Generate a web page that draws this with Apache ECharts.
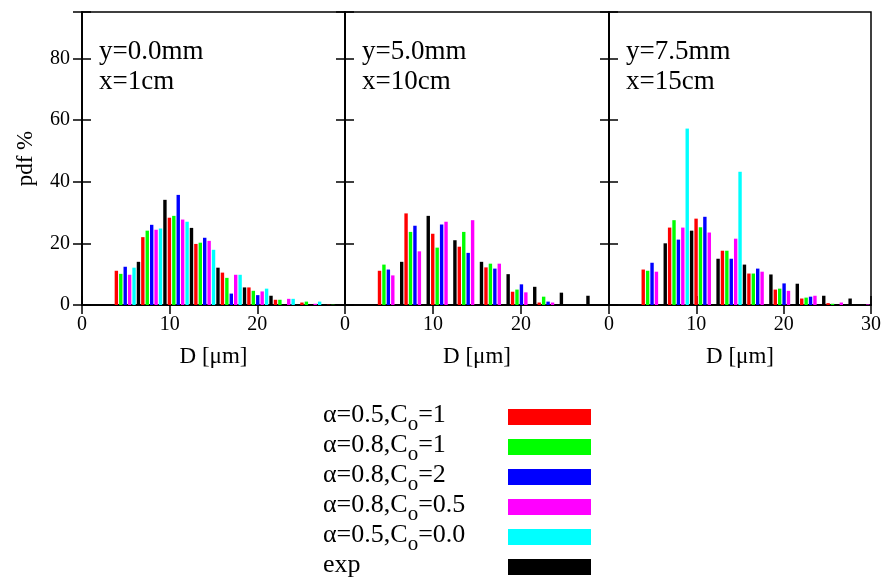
<!DOCTYPE html>
<html>
<head>
<meta charset="utf-8">
<script src="https://cdn.jsdelivr.net/npm/echarts@6/dist/echarts.min.js"></script>
<style>html,body{margin:0;padding:0;background:#fff}#c{width:884px;height:583px}</style>
</head>
<body>
<div id="c"></div>
<script>
// ---- data ----
const binD = [5.18, 8.2, 11.23, 14.25, 17.28, 20.3, 23.33, 26.35, 29.38];
const seriesNames = ['α=0.5,C_o=1', 'α=0.8,C_o=1', 'α=0.8,C_o=2', 'α=0.8,C_o=0.5', 'α=0.5,C_o=0.0', 'exp'];
const seriesColors = ['#ff0000', '#00ff00', '#0000ff', '#ff00ff', '#00ffff', '#000000'];
const panelLine1 = ['y=0.0mm', 'y=5.0mm', 'y=7.5mm'];
const panelLine2 = ['x=1cm', 'x=10cm', 'x=15cm'];
const xTicks = [0, 10, 20, 30];
const yTicks = [0, 20, 40, 60, 80];

// panel 1: y=0.0mm, x=1cm
const p1_a05_c1   = [11.1, 22.0, 28.3, 19.8, 10.5, 5.7, 1.7, 0.8, 0.1];
const p1_a08_c1   = [10.1, 24.1, 28.9, 20.2, 8.8, 4.6, 1.7, 1.1, 0.1];
const p1_a08_c2   = [12.4, 26.0, 35.7, 21.8, 3.7, 3.2, 0, 0, 0];
const p1_a08_c05  = [9.8, 24.4, 27.7, 20.8, 9.8, 4.4, 2.0, 0.4, 0];
const p1_a05_c00  = [12.1, 24.8, 27.0, 17.9, 9.8, 5.3, 2.0, 1.1, 0];
const p1_exp      = [14.0, 34.1, 25.0, 12.1, 5.7, 3.0, 0, 0, 0];
// panel 2: y=5.0mm, x=10cm
const p2_a05_c1   = [11.1, 29.7, 23.1, 18.9, 12.2, 4.3, 0.8, 0, 0];
const p2_a08_c1   = [13.1, 23.7, 18.6, 23.7, 13.4, 5.0, 2.7, 0, 0];
const p2_a08_c2   = [11.5, 25.7, 26.1, 16.9, 11.8, 6.7, 1.1, 0, 0];
const p2_a08_c05  = [9.6, 17.4, 27.0, 27.5, 13.4, 4.1, 0.8, 0, 0];
const p2_a05_c00  = [0, 0, 0, 0, 0, 0, 0, 0, 0];
const p2_exp      = [14.0, 28.9, 21.0, 14.0, 10.0, 5.9, 4.0, 3.0, 0];
// panel 3: y=7.5mm, x=15cm
const p3_a05_c1   = [11.5, 25.1, 28.0, 17.6, 10.2, 5.0, 2.1, 0.6, 0];
const p3_a08_c1   = [11.1, 27.5, 25.2, 17.6, 10.2, 5.3, 2.4, 0.4, 0];
const p3_a08_c2   = [13.7, 21.2, 28.6, 15.0, 11.8, 7.0, 2.7, 0, 0];
const p3_a08_c05  = [10.8, 25.1, 23.5, 21.5, 10.8, 4.6, 3.0, 0.8, 0.2];
const p3_a05_c00  = [0, 57.2, 0, 43.2, 0, 0, 0, 0, 0];
const p3_exp      = [20.0, 24.1, 15.0, 13.1, 9.9, 6.9, 3.0, 2.1, 0];

const panels = [
  [p1_a05_c1, p1_a08_c1, p1_a08_c2, p1_a08_c05, p1_a05_c00, p1_exp],
  [p2_a05_c1, p2_a08_c1, p2_a08_c2, p2_a08_c05, p2_a05_c00, p2_exp],
  [p3_a05_c1, p3_a08_c1, p3_a08_c2, p3_a08_c05, p3_a05_c00, p3_exp]
];

// ---- layout ----
const FONT = 'Liberation Serif';
const gridLefts = [82, 345, 609];
const gridWidths = [263, 264, 264];
const TOP = 12, HEIGHT = 293;
const barStep = 0.504;
const LW = 1.5;

const grids = [], xAxes = [], yAxes = [], series = [], titles = [];
for (let p = 0; p < 3; p++) {
  grids.push({left: gridLefts[p], top: TOP, width: gridWidths[p], height: HEIGHT,
    show: true, borderColor: '#000', borderWidth: LW, backgroundColor: 'transparent', containLabel: false});
  const lastPanel = p === 2;
  xAxes.push({type: 'value', gridIndex: p, min: 0, max: 30, interval: 10, position: 'bottom',
    axisLine: {show: true, lineStyle: {color: '#000', width: LW}},
    axisTick: {show: true, inside: true, length: 9, lineStyle: {color: '#000', width: LW}},
    axisLabel: {show: true, color: '#000', fontFamily: FONT, fontSize: 20, margin: 10,
      showMaxLabel: lastPanel, formatter: v => xTicks.includes(v) ? String(v) : ''},
    splitLine: {show: false},
    name: 'D [μm]', nameLocation: 'middle', nameGap: 40,
    nameTextStyle: {color: '#000', fontFamily: FONT, fontSize: 23}});
  xAxes.push({type: 'value', gridIndex: p, min: 0, max: 30, interval: 10, position: 'top',
    axisLine: {show: true, lineStyle: {color: '#000', width: LW}},
    axisTick: {show: true, inside: true, length: 9, lineStyle: {color: '#000', width: LW}},
    axisLabel: {show: false}, splitLine: {show: false}});
  yAxes.push({type: 'value', gridIndex: p, min: 0, max: 95, interval: 20, position: 'left',
    axisLine: {show: true, lineStyle: {color: '#000', width: LW}},
    axisTick: {show: true, inside: true, length: 9, lineStyle: {color: '#000', width: LW}},
    axisLabel: {show: p === 0, color: '#000', fontFamily: FONT, fontSize: 20, margin: 12,
      formatter: v => yTicks.includes(v) ? String(v) : ''},
    splitLine: {show: false},
    name: p === 0 ? 'pdf %' : '', nameLocation: 'middle', nameGap: 45,
    nameTextStyle: {color: '#000', fontFamily: FONT, fontSize: 23}});
  yAxes.push({type: 'value', gridIndex: p, min: 0, max: 95, interval: 20, position: 'right',
    axisLine: {show: true, lineStyle: {color: '#000', width: LW}},
    axisTick: {show: true, inside: true, length: 9, lineStyle: {color: '#000', width: LW}},
    axisLabel: {show: false}, splitLine: {show: false}});

  for (let k = 0; k < 6; k++) {
    const vals = panels[p][k];
    series.push({
      type: 'bar', name: seriesNames[k], xAxisIndex: 2 * p, yAxisIndex: 2 * p,
      barWidth: 3.4, barGap: '-100%',
      itemStyle: {color: seriesColors[k]},
      data: vals.map((v, j) => [binD[j] + (k - 2.5) * barStep, v]),
      silent: true, animation: false, clip: true
    });
  }
  titles.push({text: panelLine1[p] + '\n' + panelLine2[p], left: gridLefts[p] + 17, top: 37, padding: 0,
    textStyle: {color: '#000', fontFamily: FONT, fontSize: 27, fontWeight: 'normal', lineHeight: 30}});
}

const legendFormatter = name => {
  const parts = name.split('_');
  if (parts.length === 1) return '{n|' + name + '}';
  const rest = parts[1];
  return '{n|' + parts[0] + '}{s|' + rest.charAt(0) + '}{n|' + rest.slice(1) + '}';
};

const option = {
  backgroundColor: '#fff',
  animation: false,
  title: titles,
  grid: grids,
  xAxis: xAxes,
  yAxis: yAxes,
  legend: {
    data: seriesNames, orient: 'vertical', left: 323, top: 402, height: 200, padding: 0, align: 'right',
    itemWidth: 83, itemHeight: 16, itemGap: -3, icon: 'rect',
    formatter: legendFormatter,
    textStyle: {color: '#000', fontFamily: FONT, fontSize: 26, width: 180, align: 'left', lineHeight: 30,
      rich: {
        n: {fontFamily: FONT, fontSize: 26, color: '#000', lineHeight: 30, verticalAlign: 'top', align: 'left'},
        s: {fontFamily: FONT, fontSize: 21, color: '#000', lineHeight: 30, verticalAlign: 'top', align: 'left', padding: [12, 0, 0, 0]}
      }},
    selectedMode: false
  },
  series: series
};

const chart = echarts.init(document.getElementById('c'), null, {renderer: 'canvas'});
chart.setOption(option);
</script>
</body>
</html>
